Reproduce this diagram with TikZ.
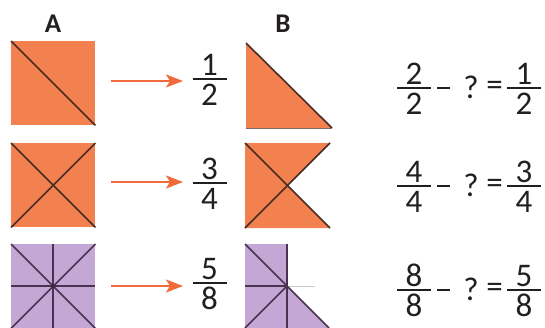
\documentclass[tikz,border=0pt]{standalone}
\usepackage{fontspec}
\setmainfont{Carlito}
\usetikzlibrary{arrows.meta}
\definecolor{sqorange}{HTML}{F2814F}
\definecolor{arroworange}{HTML}{F06A3C}
\definecolor{sqpurple}{HTML}{C5A7D5}
\definecolor{linebrown}{HTML}{4A2C22}
\definecolor{linepurple}{HTML}{4A3350}
\definecolor{txt}{HTML}{231F20}
\tikzset{
  digit/.style={font=\fontsize{33}{33}\selectfont, inner sep=0pt, anchor=base, text=txt},
  sym/.style={font=\fontsize{33}{33}\selectfont, inner sep=0pt, anchor=center, text=txt},
  collabel/.style={font=\bfseries\fontsize{27}{27}\selectfont, inner sep=0pt, text=txt},
  fracbar/.style={line width=1.8pt, txt},
  minusbar/.style={line width=2pt, txt},
  pointer/.style={arroworange, line width=2pt, -{Stealth[length=17pt,width=13pt,inset=4pt]}},
  sqbox/.style={minimum size=84pt, inner sep=0pt, anchor=north west, draw=none},
  olines/.style={linebrown, line width=1.6pt},
  plines/.style={linepurple, line width=1.6pt},
}
\newcommand\myfrac[5]{%
  \draw[fracbar] (#1-17,#2) -- (#1+17,#2);
  \node[digit] (#5n) at (#1,#2-4) {#3};
  \node[digit] (#5d) at (#1,#2+26) {#4};}
\newcommand\myeq[5]{% bar y, left num=den, right num, right den, name
  \myfrac{414}{#1}{#2}{#2}{#5l}
  \coordinate (#5ma) at (437,#1);
  \coordinate (#5mb) at (450,#1);
  \draw[minusbar] (#5ma) -- (#5mb);
  \node[sym] (#5q) at (471,#1-1) {?};
  \node[sym] (#5e) at (494.5,#1) {=};
  \myfrac{524}{#1}{#3}{#4}{#5r}}
\begin{document}
\begin{tikzpicture}[x=1pt,y=-1pt]
\useasboundingbox (0,0) rectangle (545,327);
% column labels
\node[collabel] (colA) at (53,24) {A};
\node[collabel] (colB) at (283,24) {B};
% row 1
\node[sqbox, fill=sqorange] (a1) at (11,41) {};
\draw[olines] (a1.north west) -- (a1.south east);
\coordinate (s1) at (111,81);
\coordinate (e1) at (183,81);
\draw[pointer] (s1) -- (e1);
\myfrac{209.5}{79}{1}{2}{f1}
\fill[sqorange] (246,43) -- (246,128) -- (332,128) -- cycle;
\draw[olines] (246,43) -- (332,128);
\draw[linebrown!70, line width=0.6pt] (246,128) -- (332,128);
% row 2
\node[sqbox, fill=sqorange] (a2) at (11,143) {};
\draw[olines] (a2.north west) -- (a2.south east);
\draw[olines] (a2.south west) -- (a2.north east);
\coordinate (s2) at (111,182);
\coordinate (e2) at (183,182);
\draw[pointer] (s2) -- (e2);
\myfrac{209.5}{183}{3}{4}{f2}
\fill[sqorange] (245,143) -- (330,143) -- (287.5,185.5) -- (330,228) -- (245,228) -- cycle;
\draw[olines] (245,143) -- (330,228);
\draw[olines] (245,228) -- (330,143);
% row 3
\node[sqbox, fill=sqpurple] (a3) at (11,244) {};
\draw[plines] (a3.north west) -- (a3.south east);
\draw[plines] (a3.south west) -- (a3.north east);
\draw[plines] (a3.north) -- (a3.south);
\draw[plines] (a3.west) -- (a3.east);
\fill[linepurple!80!black] (a3.center) circle (2pt);
\coordinate (s3) at (111,286);
\coordinate (e3) at (183,286);
\draw[pointer] (s3) -- (e3);
\myfrac{209.5}{283}{5}{8}{f3}
\fill[sqpurple] (245,244) -- (287,244) -- (287,286) -- (329,328) -- (245,328) -- cycle;
\draw[black!20, line width=0.8pt] (287,286) -- (315,286);
\draw[plines] (245,244) -- (329,328);
\draw[plines] (245,328) -- (287,286);
\draw[plines] (287,244) -- (287,328);
\draw[plines] (245,286) -- (287,286);
% equations
\myeq{88}{2}{1}{2}{q1}
\myeq{186}{4}{3}{4}{q2}
\myeq{290}{8}{5}{8}{q3}
\end{tikzpicture}
\end{document}
